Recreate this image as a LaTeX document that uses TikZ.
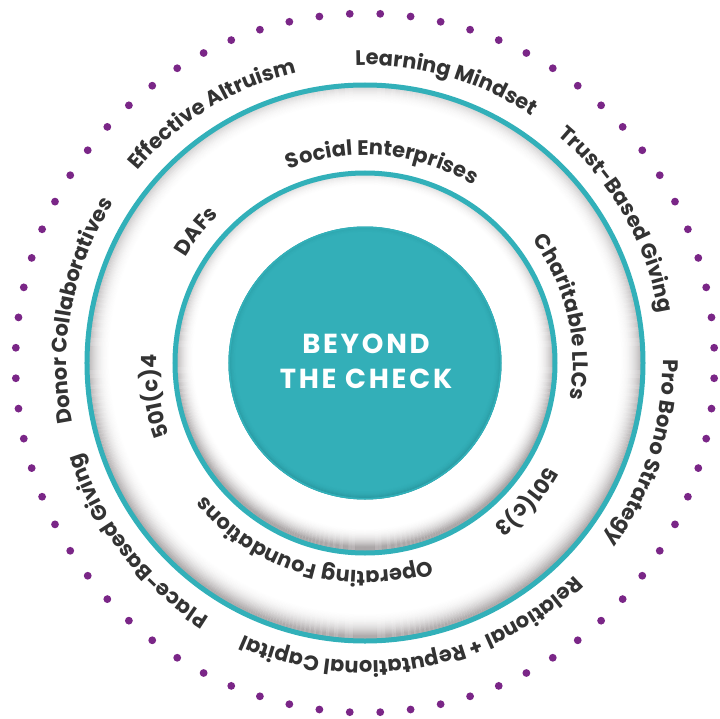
\documentclass[tikz,border=0pt]{standalone}
\usepackage{fontspec}
\setmainfont{Poppins}
\newfontfamily\labelfont{Poppins}[UprightFont={* Bold}]
\newfontfamily\corefont{Poppins}[UprightFont={* Bold}, LetterSpace=10]
\usetikzlibrary{decorations.text}

\definecolor{ringteal}{RGB}{50,176,185}
\definecolor{coreteal}{RGB}{51,175,184}
\definecolor{rimteal}{RGB}{30,128,136}
\definecolor{dotpurple}{RGB}{122,38,135}
\definecolor{labelgray}{RGB}{51,51,51}
\definecolor{shadowgray}{RGB}{70,60,62}

% inner shadow of a white disc: #1 radius, #2 band width, #3 upward shift, #4 max opacity, #5 colour
\newcommand{\innershade}[5]{%
  \begin{scope}
    \clip (0,0) circle[radius=#1pt];
    \foreach \k in {0,...,40}{%
      \pgfmathsetmacro\rr{#1-#2+\k+0.5}%
      \pgfmathsetmacro\aa{#4*pow(min(1,(\k+0.5)/#2),2.2)}%
      \draw[#5, draw opacity=\aa, line width=1pt] (0,#3pt) circle[radius=\rr pt];
    }
  \end{scope}}

% text set clockwise along a circle, centred on angle #1, baseline radius #2
\newcommand{\arclabel}[3]{%
  \path[decorate, decoration={text along path, text align=center,
      text={|\labelfont\fontsize{21}{21}\selectfont\color{labelgray}|#3}}]
    ({#1+75}:#2pt) arc[start angle={#1+75}, end angle={#1-75}, radius=#2pt];}

\begin{document}
\begin{tikzpicture}
  \useasboundingbox[fill=white] (-365pt,-355pt) rectangle (355pt,363pt);

  % dotted outer boundary
  \foreach \i in {0,...,71}
    \fill[dotpurple] ({2.5+5*\i}:349.5pt) circle[radius=3.9pt];

  % outer band
  \fill[white] (0,0) circle[radius=278pt];
  \innershade{278}{24}{5}{0.4}{shadowgray}
  \draw[ringteal, line width=5pt] (0,0) circle[radius=278pt];

  % middle band
  \fill[white] (0,0) circle[radius=190pt];
  \innershade{190}{20}{6}{0.42}{shadowgray}
  \draw[ringteal, line width=5pt] (0,0) circle[radius=190pt];

  % core disc
  \fill[coreteal] (0,0) circle[radius=136.5pt];
  \innershade{136.5}{8}{1.5}{0.45}{rimteal}
  \draw[ringteal, line width=1.6pt] (0,0) circle[radius=135.7pt];

  \node[text=white, align=center, inner sep=0pt,
        font=\corefont\fontsize{27.5}{35}\selectfont] (core) at (1pt,1.5pt)
       {BEYOND\\THE CHECK};

  % outer band labels
  \arclabel{121.5}{298}{Effective Altruism}
  \arclabel{73.9}{298}{Learning Mindset}
  \arclabel{29.7}{298}{Trust-Based Giving}
  \arclabel{-17.9}{298}{Pro Bono Strategy}
  \arclabel{-79.7}{298}{Relational + Reputational Capital}
  \arclabel{-142}{298}{Place-Based Giving}
  \arclabel{169.5}{298}{Donor Collaboratives}

  % middle band labels
  \arclabel{85}{208}{Social Enterprises}
  \arclabel{13.1}{208}{Charitable LLCs}
  \arclabel{-40.5}{208}{501(c)3}
  \arclabel{-106}{208}{Operating Foundations}
  \arclabel{189}{208}{501(c)4}
  \arclabel{142}{208}{DAFs}
\end{tikzpicture}
\end{document}
